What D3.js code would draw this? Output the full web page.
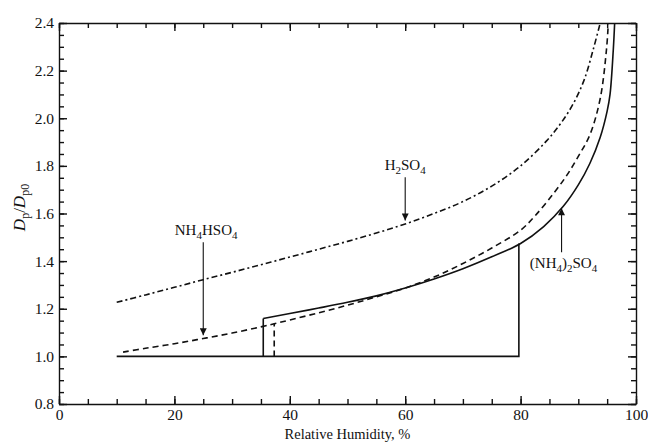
<!DOCTYPE html>
<html>
<head>
<meta charset="utf-8">
<script src="https://cdn.jsdelivr.net/npm/d3@7"></script>
<style>
  body { margin: 0; background: #fff; }
  svg text { font-family: "Liberation Serif", "Times New Roman", serif; fill: #111; }
  .axis path, .axis line { stroke: #111; stroke-width: 1.4px; }
</style>
</head>
<body>
<script>
//chart data (relative humidity %, Dp/Dp0)
var solidRH   = [35.4, 40, 45, 50, 55, 60, 65, 70, 75, 80, 84, 87.4, 90, 92, 93.8, 95, 95.5, 96.07, 96.3];
var solidD    = [1.159, 1.18, 1.203, 1.227, 1.254, 1.287, 1.325, 1.368, 1.418, 1.474, 1.545, 1.63, 1.72, 1.81, 1.92, 2.03, 2.1, 2.29, 2.4];
var dashedRH  = [11.1, 15, 20, 25, 30, 35, 37.3, 40, 45, 50, 55, 60, 65, 70, 75, 80, 82.5, 85.7, 88, 90, 92, 93.8, 94.9, 95.2];
var dashedD   = [1.018, 1.034, 1.053, 1.075, 1.098, 1.124, 1.137, 1.153, 1.183, 1.215, 1.25, 1.287, 1.333, 1.39, 1.455, 1.53, 1.59, 1.684, 1.76, 1.84, 1.93, 2.083, 2.293, 2.4];
var dashdotRH = [10, 15, 20, 25, 30, 35, 40, 45, 50, 55, 60, 65, 70, 75, 80, 84.5, 87, 89.1, 91, 92.6, 93.8];
var dashdotD  = [1.227, 1.258, 1.29, 1.322, 1.353, 1.385, 1.417, 1.45, 1.483, 1.518, 1.556, 1.6, 1.65, 1.715, 1.8, 1.905, 1.98, 2.06, 2.16, 2.29, 2.4];

//dry branch and the jumps
var dryRH = [10, 79.7, 79.7];
var dryD  = [1.0, 1.0, 1.474];
var effloRH = [35.4, 35.4];
var effloD  = [1.0, 1.159];
var dashJumpRH = [37.3, 37.3];
var dashJumpD  = [1.0, 1.137];

//tick values
var xTicks = [0, 20, 40, 60, 80, 100];
var yTicks = [0.8, 1.0, 1.2, 1.4, 1.6, 1.8, 2.0, 2.2, 2.4];

//labels with arrows
var labelNames = ["H2SO4", "NH4HSO4", "(NH4)2SO4"];
var labelParts = [
    [["H", 0], ["2", 1], ["SO", 0], ["4", 1]],
    [["NH", 0], ["4", 1], ["HSO", 0], ["4", 1]],
    [["(NH", 0], ["4", 1], [")", 0], ["2", 1], ["SO", 0], ["4", 1]]
];
var labelX     = [60, 25.5, 81.6];
var labelY     = [1.781, 1.509, 1.37];
var labelAnchor = ["middle", "middle", "start"];
var arrowX     = [60, 25.0, 87.1];
var arrowTail  = [1.752, 1.479, 1.437];
var arrowTip   = [1.571, 1.089, 1.622];

function zip(a, b){ return a.map(function(v, i){ return [v, b[i]]; }); }

var width = 648, height = 447;
var margin = {top: 23, right: 12, bottom: 43, left: 59};
var innerW = width - margin.left - margin.right,
    innerH = height - margin.top - margin.bottom;

var svg = d3.select("body").append("svg")
    .attr("width", width)
    .attr("height", height);

var g = svg.append("g")
    .attr("transform", "translate(" + margin.left + "," + margin.top + ")");

var x = d3.scaleLinear().domain([0, 100]).range([0, innerW]);
var y = d3.scaleLinear().domain([0.8, 2.4]).range([innerH, 0]);

//arrow head
svg.append("defs").append("marker")
    .attr("id", "head")
    .attr("markerUnits", "userSpaceOnUse")
    .attr("viewBox", "0 0 10 10")
    .attr("refX", 10).attr("refY", 5)
    .attr("markerWidth", 10).attr("markerHeight", 7)
    .attr("orient", "auto")
    .append("path")
    .attr("d", "M0,0 L10,5 L0,10 Z")
    .attr("fill", "#111");

//minor and major ticks, pointing inward on all four sides
var minorX = d3.range(0, 101, 5), minorY = d3.range(0.8, 2.401, 0.05);
function drawAxis(axisFn, scale, major, minor, transform, labels){
    g.append("g").attr("class", "axis")
        .attr("transform", transform)
        .call(axisFn(scale).tickValues(minor).tickSize(-5).tickFormat(""))
        .call(function(s){ s.select(".domain").remove(); });
    var a = g.append("g").attr("class", "axis")
        .attr("transform", transform)
        .call(axisFn(scale).tickValues(major).tickSizeInner(-8).tickSizeOuter(0)
            .tickPadding(labels ? 5 : 0)
            .tickFormat(labels ? labels : ""));
    a.selectAll("text").style("font-size", "15.5px");
    return a;
}
drawAxis(d3.axisBottom, x, xTicks, minorX, "translate(0," + innerH + ")", d3.format("d"));
drawAxis(d3.axisTop, x, xTicks, minorX, "translate(0,0)", null);
drawAxis(d3.axisLeft, y, yTicks, minorY, "translate(0,0)", d3.format(".1f"));
drawAxis(d3.axisRight, y, yTicks, minorY, "translate(" + innerW + ",0)", null);

//axis titles
svg.append("text")
    .attr("x", margin.left + innerW / 2)
    .attr("y", 439)
    .attr("text-anchor", "middle")
    .style("font-size", "14.5px")
    .text("Relative Humidity, %");

var yTitle = svg.append("text")
    .attr("transform", "translate(25," + (margin.top + innerH / 2 - 6) + ") rotate(-90)")
    .attr("text-anchor", "middle")
    .style("font-size", "17px");
yTitle.append("tspan").style("font-style", "italic").text("D");
yTitle.append("tspan").attr("dy", 4).style("font-size", "12px").text("p");
yTitle.append("tspan").attr("dy", -4).text("/");
yTitle.append("tspan").style("font-style", "italic").text("D");
yTitle.append("tspan").attr("dy", 4).style("font-size", "12px").text("p0");

//curves
var line = d3.line()
    .x(function(d){ return x(d[0]); })
    .y(function(d){ return y(d[1]); });
var smooth = d3.line()
    .x(function(d){ return x(d[0]); })
    .y(function(d){ return y(d[1]); })
    .curve(d3.curveCatmullRom.alpha(0.5));

function addPath(gen, data, dash){
    g.append("path")
        .datum(data)
        .attr("d", gen)
        .attr("fill", "none")
        .attr("stroke", "#111")
        .attr("stroke-width", 1.6)
        .attr("stroke-dasharray", dash);
}
addPath(line, zip(dryRH, dryD), null);
addPath(line, zip(effloRH, effloD), null);
addPath(smooth, zip(solidRH, solidD), null);
addPath(line, zip(dashJumpRH, dashJumpD), "6,4");
addPath(smooth, zip(dashedRH, dashedD), "6,4");
addPath(smooth, zip(dashdotRH, dashdotD), "6,3,2,3");

//labels and arrows
labelNames.forEach(function(name, i){
    g.append("line")
        .attr("x1", x(arrowX[i])).attr("y1", y(arrowTail[i]))
        .attr("x2", x(arrowX[i])).attr("y2", y(arrowTip[i]))
        .attr("stroke", "#111")
        .attr("stroke-width", 1.1)
        .attr("marker-end", "url(#head)");
    var t = g.append("text")
        .attr("x", x(labelX[i]))
        .attr("y", y(labelY[i]))
        .attr("text-anchor", labelAnchor[i])
        .style("font-size", "15px");
    var sub = 0;
    labelParts[i].forEach(function(p){
        var dy = (p[1] ? 4 : 0) - sub;
        sub = p[1] ? 4 : 0;
        var s = t.append("tspan").attr("dy", dy).text(p[0]);
        if (p[1]) s.style("font-size", "11px");
    });
});
</script>
</body>
</html>
